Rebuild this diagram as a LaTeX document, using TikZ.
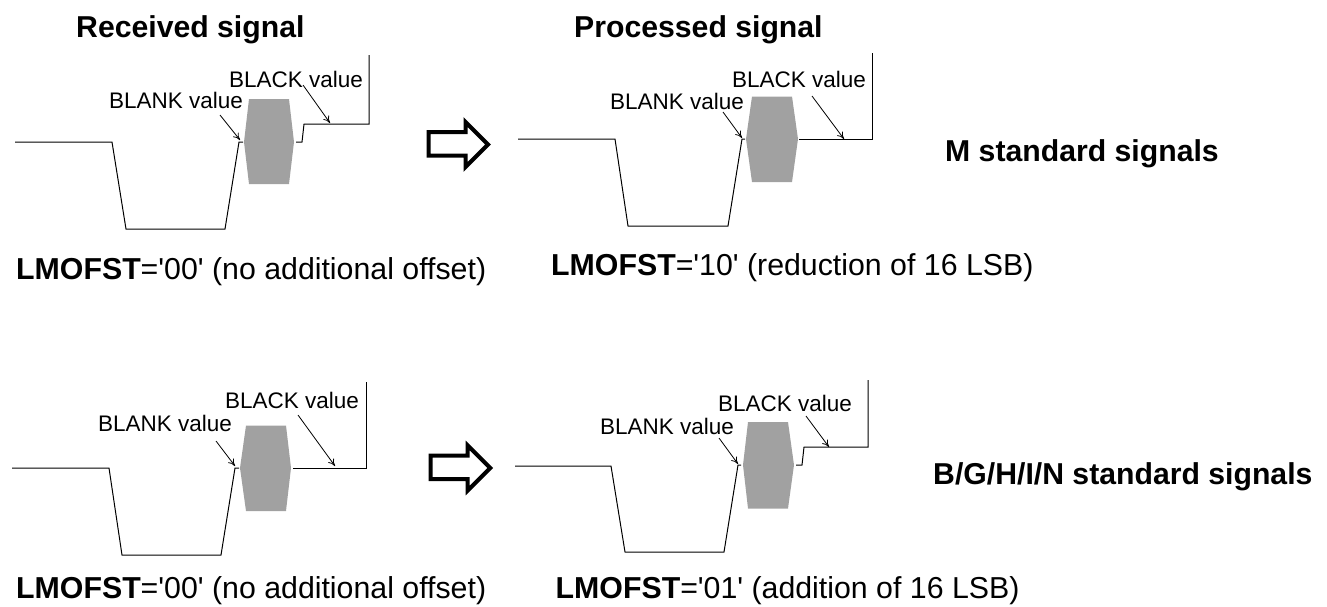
\documentclass[tikz,border=0pt]{standalone}
\usepackage{fontspec}
\setmainfont{Liberation Sans}[Ligatures=TeXOff]
\usetikzlibrary{arrows.meta}
\tikzset{
  wave/.style={draw=black,line width=1pt,line join=miter},
  burst/.style={fill=black!37,draw=none},
  leader/.style={draw=black,line width=0.8pt,-{To[length=7pt,width=7pt]}},
  bigarrow/.style={draw=black,line width=4pt,fill=white,line join=miter},
  lab/.style={inner sep=0pt,anchor=center,font=\fontsize{22.5}{26}\selectfont},
  captxt/.style={inner sep=0pt,anchor=base west,font=\fontsize{30.3}{34}\selectfont},
  headtxt/.style={inner sep=0pt,anchor=base west,font=\fontsize{30.2}{34}\selectfont\bfseries}
}
\begin{document}
\begin{tikzpicture}[x=1pt,y=-1pt]
\useasboundingbox (0,0) rectangle (1327,606);
% titles
\node[headtxt] (t1) at (76,37) {Received signal};
\node[headtxt] (t2) at (574,37) {Processed signal};
\node[headtxt] (s1) at (945,161) {M standard signals};
\node[headtxt] (s2) at (933,484) {B/G/H/I/N standard signals};
% panel 1
\fill[burst] (249,99)--(289,99)--(294,142)--(289,184)--(249,184)--(244,142)--cycle;
\draw[wave] (15,142)--(112,142)--(126,229)--(225,229)--(239,142)--(243,142);
\draw[wave] (296,142)--(302,142)--(304,124)--(369,124)--(369,55);
\node[lab] (k1) at (296,79) {BLACK value};
\node[lab] (n1) at (176,100) {BLANK value};
\coordinate (ka1) at (330,123); \coordinate (na1) at (240,140);
\draw[leader] (303,85)--(ka1);
\draw[leader] (220,115)--(na1);
\node[captxt] (c1) at (16,279) {\textbf{LMOFST}='00' (no additional offset)};
% panel 2
\fill[burst] (752,96.5)--(792,96.5)--(798,139)--(792,182)--(752,182)--(746,139)--cycle;
\draw[wave] (518,139)--(615,139)--(628,226)--(728,226)--(742,139)--(745,139);
\draw[wave] (799,139)--(872,139)--(872,53);
\node[lab] (k2) at (799,79) {BLACK value};
\node[lab] (n2) at (677,101) {BLANK value};
\coordinate (ka2) at (844,139); \coordinate (na2) at (742,138);
\draw[leader] (812,96)--(ka2);
\draw[leader] (723,112)--(na2);
\node[captxt] (c2) at (551,275) {\textbf{LMOFST}='10' (reduction of 16 LSB)};
% panel 3
\fill[burst] (246,425.5)--(286,425.5)--(291,468)--(286,511)--(246,511)--(240,468)--cycle;
\draw[wave] (12,468)--(109,468)--(122,555)--(221,555)--(235,468)--(239,468);
\draw[wave] (293,468)--(366,468)--(366,382);
\node[lab] (k3) at (292,400) {BLACK value};
\node[lab] (n3) at (165,423) {BLANK value};
\coordinate (ka3) at (335,466); \coordinate (na3) at (235,466);
\draw[leader] (298,415)--(ka3);
\draw[leader] (216,441)--(na3);
\node[captxt] (c3) at (16,598) {\textbf{LMOFST}='00' (no additional offset)};
% panel 4
\fill[burst] (748,422)--(788,422)--(794,465)--(788,508.5)--(748,508.5)--(743,465)--cycle;
\draw[wave] (515,466)--(611,466)--(625,552)--(724,552)--(738,465)--(741,465);
\draw[wave] (796,465)--(802,465)--(804,447)--(868,447)--(868,380);
\node[lab] (k4) at (785,403) {BLACK value};
\node[lab] (n4) at (667,426) {BLANK value};
\coordinate (ka4) at (829,447); \coordinate (na4) at (738,464);
\draw[leader] (806,416)--(ka4);
\draw[leader] (719,438)--(na4);
\node[captxt] (c4) at (555.5,598) {\textbf{LMOFST}='01' (addition of 16 LSB)};
% block arrows
\draw[bigarrow] (428.5,132)--(465.5,132)--(465.5,122)--(488,144.5)--(465.5,167)--(465.5,155.5)--(428.5,155.5)--cycle;
\draw[bigarrow] (430.7,455.5)--(467.7,455.5)--(467.7,445.5)--(490.2,468)--(467.7,490.5)--(467.7,479)--(430.7,479)--cycle;
\end{tikzpicture}
\end{document}
